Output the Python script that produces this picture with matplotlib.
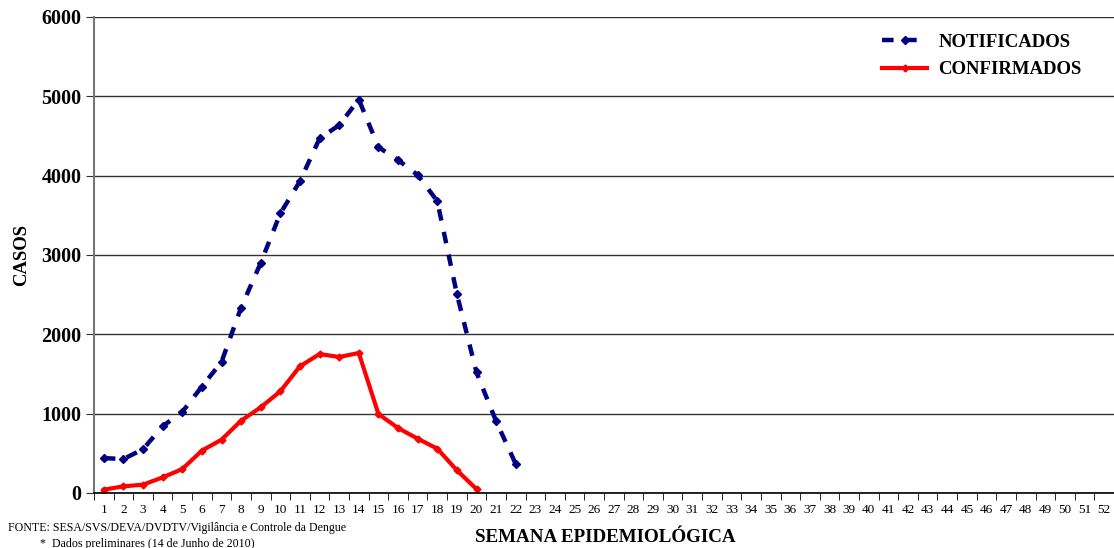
import numpy as np
import matplotlib
matplotlib.use("Agg")
import matplotlib.pyplot as plt

# ///---- dados ----///
semanas = np.arange(1, 53)
semanas_notif = np.arange(1, 23)
notificados = [440, 428, 552, 842, 1022, 1342, 1652, 2338, 2900, 3525,
               3930, 4470, 4637, 4960, 4360, 4198, 4008, 3680, 2508, 1520,
               905, 366]
semanas_conf = np.arange(1, 21)
confirmados = [42, 84, 105, 197, 302, 534, 672, 912, 1080, 1282,
               1597, 1752, 1714, 1765, 996, 819, 685, 559, 286, 50]

plt.rcParams['font.family'] = ['Liberation Serif', 'DejaVu Serif']

fig = plt.figure(figsize=(11.14, 5.48), dpi=100)
ax = fig.add_axes([94/1114, 1 - 493/548, 1 - 94/1114, (493 - 17)/548])

ax.plot(semanas_notif, notificados, color='#000080', lw=3.2, ls=(0, (2.6, 2.6)),
        marker='D', ms=4, mec='#000080', mfc='#000080', label='NOTIFICADOS')
ax.plot(semanas_conf, confirmados, color='#ff0000', lw=3.0,
        marker='D', ms=3.5, mec='#ff0000', mfc='#ff0000', label='CONFIRMADOS')

ax.set_xlim(0.5, 52.5)
ax.set_ylim(0, 6000)
ax.set_yticks(np.arange(0, 6001, 1000))
ax.set_yticklabels([str(v) for v in range(0, 6001, 1000)],
                   fontsize=14.5, fontweight='bold')
ax.yaxis.grid(True, color='#333333', lw=1)
ax.set_axisbelow(True)

# marcas entre as categorias
ax.set_xticks(semanas)
ax.set_xticklabels([str(s) for s in semanas], fontsize=9.5)
ax.tick_params(axis='x', which='major', length=0, pad=8)
ax.set_xticks(np.arange(0.5, 53, 1), minor=True)
ax.tick_params(axis='x', which='minor', length=5, direction='out', color='black')
ax.tick_params(axis='y', length=6, color='#333333', pad=3)

for lado in ['top', 'right']:
    ax.spines[lado].set_visible(False)
ax.spines['left'].set_color('#777777')
ax.spines['left'].set_linewidth(1.5)
ax.spines['bottom'].set_color('black')
ax.spines['bottom'].set_linewidth(1.2)

ax.set_ylabel('CASOS', fontsize=13.5, fontweight='bold', labelpad=8)

leg = ax.legend(loc='upper right', frameon=False, prop={'weight': 'bold', 'size': 13.5},
                bbox_to_anchor=(0.985, 1.0), handlelength=2.4, labelspacing=0.55,
                handletextpad=0.6)

fig.text(605/1114, 1 - 538/548, 'SEMANA EPIDEMIOLÓGICA', ha='center', va='center',
         fontsize=13.7, fontweight='bold')
fig.text(8/1114, 1 - 528/548, 'FONTE: SESA/SVS/DEVA/DVDTV/Vigilância e Controle da Dengue',
         ha='left', va='center', fontsize=8.6)
fig.text(40/1114, 1 - 544/548, '*  Dados preliminares (14 de Junho de 2010)',
         ha='left', va='center', fontsize=8.6)

fig.savefig('out.png', dpi=100)
